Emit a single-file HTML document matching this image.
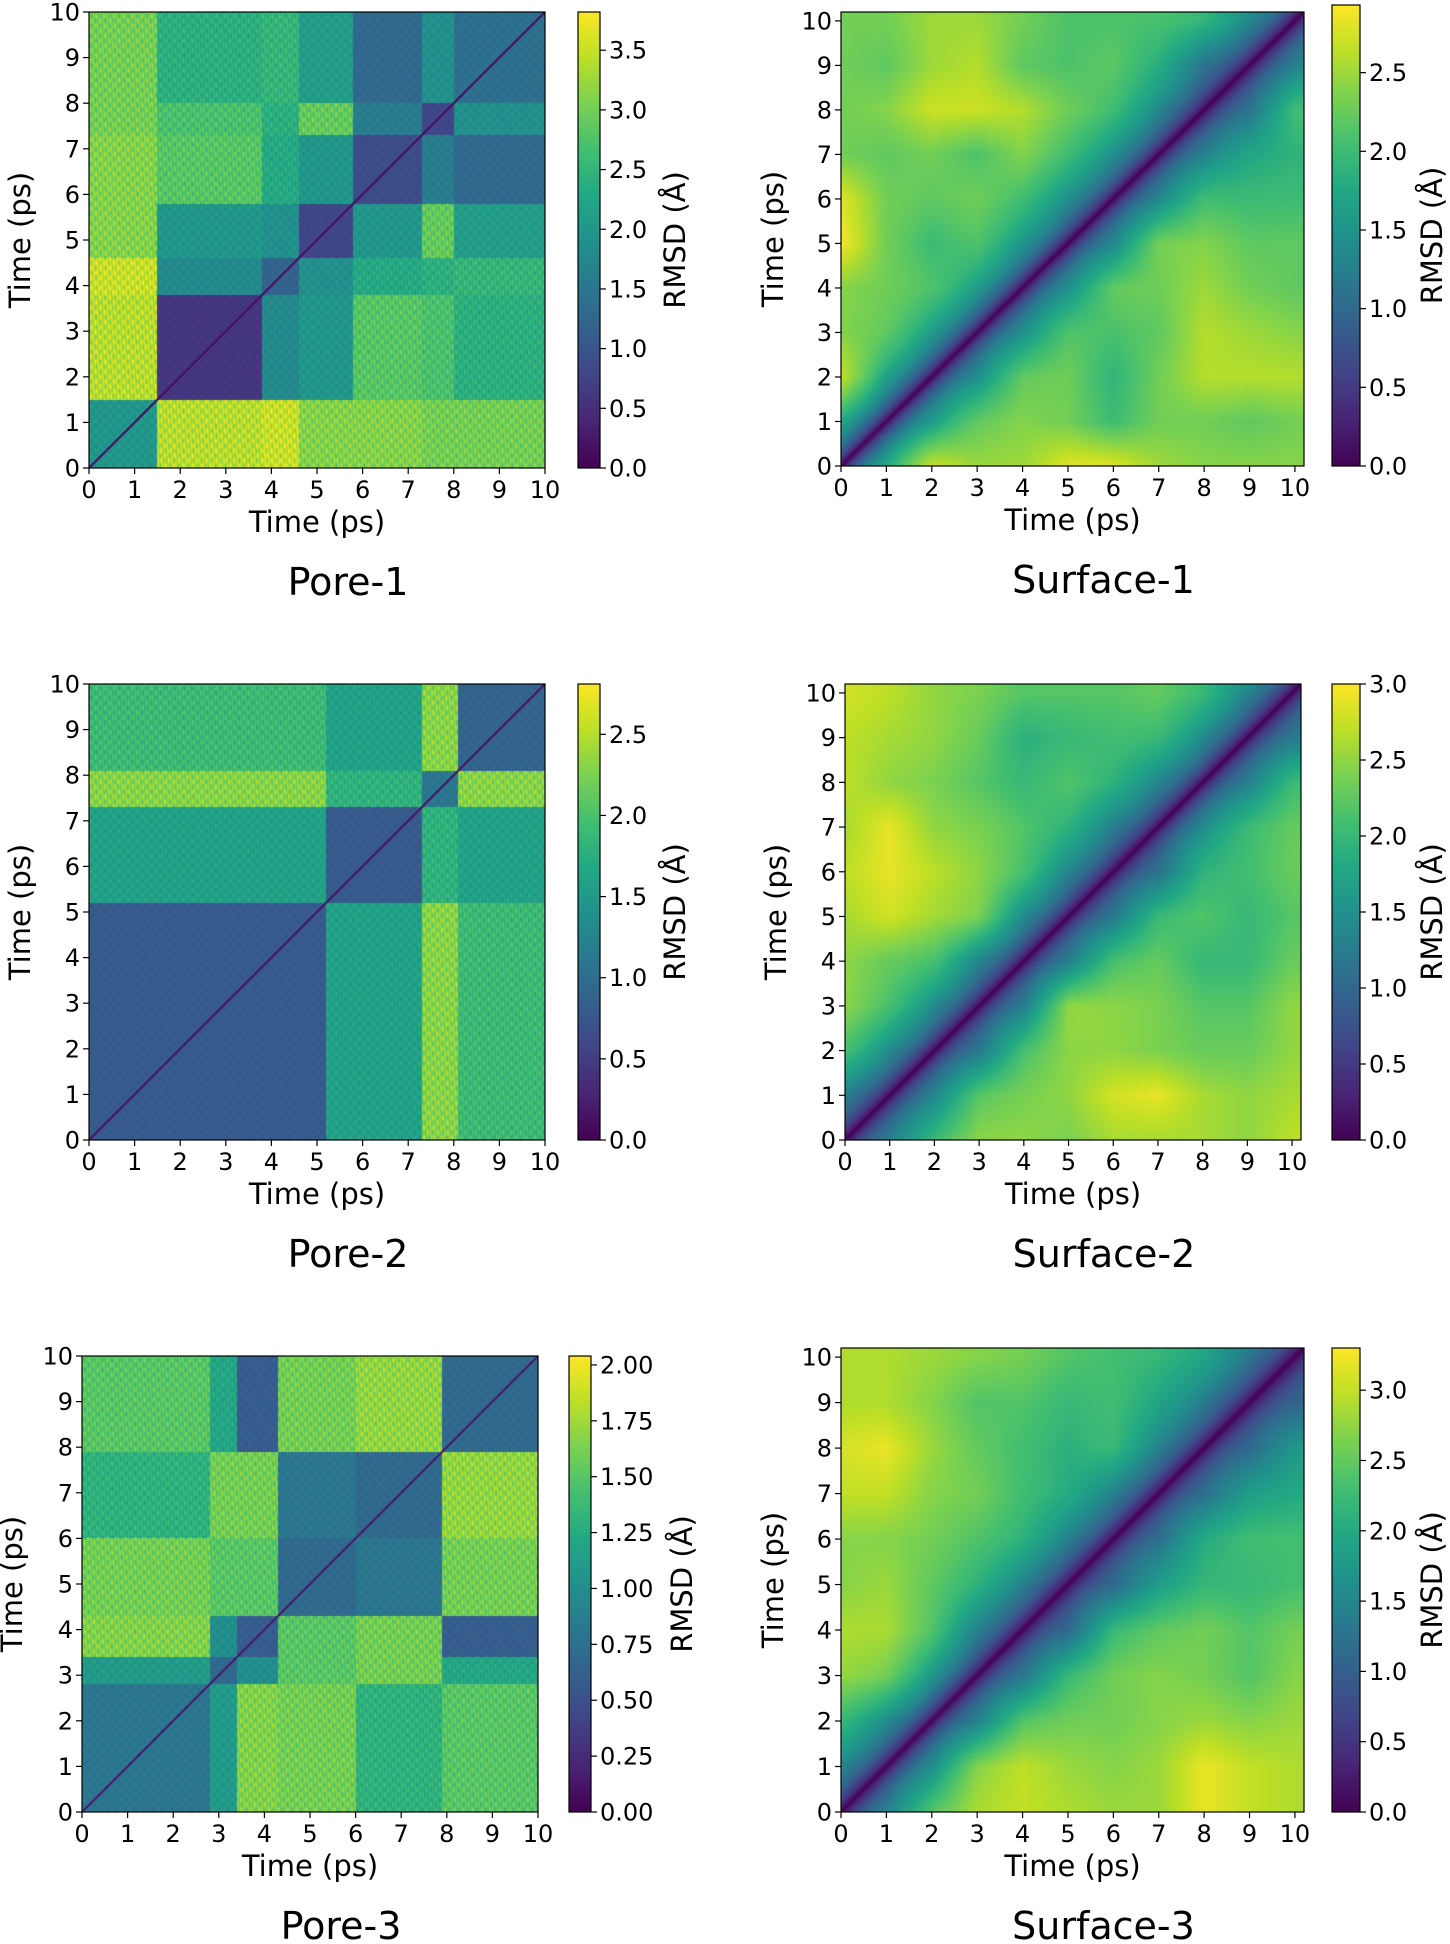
<!DOCTYPE html>
<html><head><meta charset="utf-8"><style>
html,body{margin:0;padding:0;background:#fff;}
#root{position:relative;width:1450px;height:1944px;overflow:hidden;font-family:"DejaVu Sans","Liberation Sans",sans-serif;}
canvas{position:absolute;}
svg{position:absolute;left:0;top:0;}
</style></head><body>
<div id="root">
<svg id="ov" width="1450" height="1944">
<defs><linearGradient id="vir" x1="0" y1="1" x2="0" y2="0">
<stop offset="0" stop-color="#440154"/><stop offset="0.1" stop-color="#482475"/><stop offset="0.2" stop-color="#414487"/><stop offset="0.3" stop-color="#355f8d"/><stop offset="0.4" stop-color="#2a788e"/><stop offset="0.5" stop-color="#21918c"/><stop offset="0.6" stop-color="#22a884"/><stop offset="0.7" stop-color="#44bf70"/><stop offset="0.8" stop-color="#7ad151"/><stop offset="0.9" stop-color="#bddf26"/><stop offset="1" stop-color="#fde725"/>
</linearGradient></defs>
</svg>
</div>
<script>
// ---- data ----
const poreTicks=[0,1,2,3,4,5,6,7,8,9,10];
const P1_edges=[0,1.5,3.8,4.6,5.8,7.3,8.0,10];
const P1_blocks=[
[2.0,3.4,3.5,3.1,3.1,3.0,3.0],
[3.4,0.6,1.8,2.0,2.8,2.7,2.4],
[3.5,1.8,1.2,1.9,2.3,2.4,2.5],
[3.1,2.0,1.9,0.8,2.0,2.9,2.1],
[3.1,2.8,2.3,2.0,0.9,1.6,1.3],
[3.0,2.7,2.4,2.9,1.6,0.8,1.9],
[3.0,2.4,2.5,2.1,1.3,1.9,1.4]];
const P1_cbTicks=[0.0,0.5,1.0,1.5,2.0,2.5,3.0,3.5];
const P2_edges=[0,5.2,7.3,8.1,10];
const P2_blocks=[
[0.8,1.6,2.3,1.9],
[1.6,0.8,1.8,1.6],
[2.3,1.8,1.1,2.3],
[1.9,1.6,2.3,0.9]];
const P2_cbTicks=[0.0,0.5,1.0,1.5,2.0,2.5];
const P3_edges=[0,2.8,3.4,4.3,6.0,7.9,10];
const P3_blocks=[
[0.8,1.1,1.65,1.6,1.3,1.5],
[1.1,0.7,1.0,1.5,1.6,1.2],
[1.65,1.0,0.6,1.5,1.6,0.6],
[1.6,1.5,1.5,0.7,0.8,1.6],
[1.3,1.6,1.6,0.8,0.7,1.7],
[1.5,1.2,0.6,1.6,1.7,0.7]];
const P3_cbTicks=[0.00,0.25,0.50,0.75,1.00,1.25,1.50,1.75,2.00];
const S1_grid=[
[0,2.2,2.8,2.5,2.5,2.8,2.8,2.5,2.4,2.4,2.4],
[2.2,0,2.0,2.3,2.4,2.3,2.0,2.3,2.3,2.2,2.3],
[2.8,2.1,0,1.8,2.3,2.3,1.9,2.3,2.6,2.6,2.6],
[2.4,2.3,2.0,0,1.8,2.2,2.1,2.2,2.6,2.5,2.4],
[2.4,2.3,2.2,2.0,0,1.8,2.3,2.3,2.5,2.3,2.2],
[2.9,2.3,2.0,2.2,1.9,0,1.7,2.4,2.4,2.2,2.2],
[2.8,2.3,2.2,2.3,2.1,1.8,0,1.7,2.1,2.0,2.0],
[2.3,2.2,2.3,2.1,2.4,2.1,1.8,0,1.6,1.8,1.9],
[2.3,2.4,2.7,2.7,2.6,2.3,2.1,1.7,0,1.4,2.1],
[2.3,2.2,2.5,2.6,2.2,2.1,2.2,1.9,1.4,0,1.6],
[2.3,2.3,2.5,2.5,2.3,2.1,2.1,2.1,2.0,1.7,0]];
const S1_cbTicks=[0.0,0.5,1.0,1.5,2.0,2.5];
const S2_grid=[
[0,1.6,2.1,2.5,2.5,2.4,2.6,2.6,2.6,2.5,2.7],
[1.6,0,1.7,2.3,2.4,2.5,2.8,2.9,2.6,2.5,2.6],
[2.2,1.8,0,1.5,2.2,2.5,2.5,2.4,2.3,2.3,2.5],
[2.5,2.2,1.8,0,1.6,2.6,2.5,2.4,2.2,2.2,2.5],
[2.5,2.3,2.2,1.7,0,1.6,2.2,2.3,2.0,2.0,2.3],
[2.6,2.8,2.6,2.5,1.8,0,1.5,2.1,2.2,2.0,2.2],
[2.7,2.9,2.7,2.5,2.2,1.7,0,1.4,2.0,2.1,2.3],
[2.6,2.9,2.5,2.4,2.2,2.0,1.6,0,1.8,2.1,2.3],
[2.7,2.5,2.4,2.2,2.0,2.2,2.0,1.7,0,1.6,2.1],
[2.7,2.6,2.5,2.3,1.9,2.0,2.1,2.1,1.8,0,1.5],
[2.8,2.7,2.5,2.4,2.2,2.2,2.2,2.3,2.1,1.7,0]];
const S2_cbTicks=[0.0,0.5,1.0,1.5,2.0,2.5,3.0];
const S3_grid=[
[0,1.8,2.5,2.9,3.0,2.9,2.8,2.8,3.2,3.0,2.9],
[1.9,0,2.0,2.8,3.0,2.8,2.7,2.8,3.2,3.0,2.9],
[2.3,2.0,0,1.8,2.5,2.6,2.6,2.7,2.8,2.7,2.8],
[2.8,2.7,2.2,0,1.6,2.3,2.6,2.7,2.6,2.4,2.7],
[2.9,2.9,2.5,1.8,0,1.4,2.3,2.5,2.6,2.4,2.6],
[2.7,2.8,2.5,2.2,1.8,0,1.4,1.9,2.2,2.2,2.3],
[2.7,2.7,2.6,2.4,2.2,1.8,0,1.5,2.1,2.3,2.3],
[3.0,3.0,2.7,2.6,2.3,2.1,1.8,0,1.5,1.9,2.0],
[3.1,3.2,2.8,2.5,2.3,2.1,2.3,1.8,0,1.4,1.8],
[2.9,2.9,2.7,2.4,2.4,2.2,2.3,2.0,1.7,0,1.3],
[2.9,2.9,2.8,2.7,2.6,2.4,2.3,2.2,2.0,1.6,0]];
const S3_cbTicks=[0.0,0.5,1.0,1.5,2.0,2.5,3.0];

// ---- rendering ----
const VIR=[[68,1,84],[72,36,117],[65,68,135],[53,95,141],[42,120,142],[33,145,140],[34,168,132],[68,191,112],[122,209,81],[189,223,38],[253,231,37]];
function vir(t){t=Math.max(0,Math.min(1,t));const f=t*10,i=Math.min(9,Math.floor(f)),r=f-i;const a=VIR[i],b=VIR[i+1];return [a[0]+(b[0]-a[0])*r,a[1]+(b[1]-a[1])*r,a[2]+(b[2]-a[2])*r];}
const svg=document.getElementById('ov');const NS='http://www.w3.org/2000/svg';
function el(tag,attrs,txt){const e=document.createElementNS(NS,tag);for(const k in attrs)e.setAttribute(k,attrs[k]);if(txt!==undefined)e.textContent=txt;svg.appendChild(e);return e;}
function blockIdx(edges,t){let i=0;while(i<edges.length-2&&t>=edges[i+1])i++;return i;}
function gridVal(g,x,y){const n=g.length-1;x=Math.min(n,Math.max(0,x));y=Math.min(n,Math.max(0,y));
 const bg=(i,j)=>{if(i!==j)return g[j][i];const a=[];if(i>0)a.push(g[j][i-1],g[j-1][i]);if(i<n)a.push(g[j][i+1],g[j+1][i]);return a.reduce((s,v)=>s+v,0)/a.length;};
 const i0=Math.min(n-1,Math.floor(x)),j0=Math.min(n-1,Math.floor(y)),fx=x-i0,fy=y-j0;
 return bg(i0,j0)*(1-fx)*(1-fy)+bg(i0+1,j0)*fx*(1-fy)+bg(i0,j0+1)*(1-fx)*fy+bg(i0+1,j0+1)*fx*fy;}
function panel(c){
 const W=c.R-c.L,H=c.B-c.T;
 const sx=v=>c.L+v/c.dmax*W, sy=v=>c.B-v/c.dmax*H;
 const cv=document.createElement('canvas');cv.width=W;cv.height=H;cv.style.left=c.L+'px';cv.style.top=c.T+'px';
 
 
 document.getElementById('root').insertBefore(cv,svg);
 const ctx=cv.getContext('2d');const img=ctx.createImageData(W,H);
 for(let py=0;py<H;py++){const ty=(H-py-0.5)/H*c.dmax;
  for(let px=0;px<W;px++){const tx=(px+0.5)/W*c.dmax;let v;
   if(c.grid){v=gridVal(c.grid,tx,ty);const d=Math.abs(tx-ty)/Math.SQRT2;v*=1-Math.exp(-d/0.45);}
   else{const i=blockIdx(c.edges,ty),j=blockIdx(c.edges,tx);v=c.blocks[i][j];
     v*=1+0.08*Math.sin(tx*31)*Math.sin(ty*29)+0.05*Math.sin(tx*83+ty*7);
     if(Math.abs(tx-ty)<0.035)v=0.15;}
   const col=vir(v/c.vmax);const k=(py*W+px)*4;img.data[k]=col[0];img.data[k+1]=col[1];img.data[k+2]=col[2];img.data[k+3]=255;}}
 ctx.putImageData(img,0,0);
 el('rect',{x:c.L,y:c.T,width:W,height:H,fill:'none',stroke:'#000','stroke-width':1.2,});
 for(const t of c.ticks){
  el('line',{x1:sx(t),x2:sx(t),y1:c.B,y2:c.B+6,stroke:'#000','stroke-width':1.2});
  el('text',{x:sx(t),y:c.B+30,'font-size':24,'text-anchor':'middle',},String(t));
  el('line',{x1:c.L-6,x2:c.L,y1:sy(t),y2:sy(t),stroke:'#000','stroke-width':1.2});
  el('text',{x:c.L-9,y:sy(t)+8.5,'font-size':24,'text-anchor':'end',},String(t));
 }
 el('text',{x:(c.L+c.R)/2,y:c.B+64,'font-size':29,'text-anchor':'middle',},'Time (ps)');
 el('text',{x:0,y:0,'font-size':29,'text-anchor':'middle',transform:`translate(${c.ylx},${(c.T+c.B)/2}) rotate(-90)`,},'Time (ps)');
 const cbH=c.cbB-c.cbT, cy=v=>c.cbB-v/c.vmax*cbH;
 el('rect',{x:c.cbL,y:c.cbT,width:c.cbR-c.cbL,height:cbH,fill:'url(#vir)',stroke:'#000','stroke-width':1.2,});
 for(const t of c.cbTicks){
  el('line',{x1:c.cbR,x2:c.cbR+6,y1:cy(t),y2:cy(t),stroke:'#000','stroke-width':1.2});
  el('text',{x:c.cbR+9,y:cy(t)+8.5,'font-size':24,},t.toFixed(c.dec));
 }
 el('text',{x:0,y:0,'font-size':29,'text-anchor':'middle',transform:`translate(${c.rmx},${(c.cbT+c.cbB)/2}) rotate(-90)`,},'RMSD (Å)');
 el('text',{x:(c.L+c.R)/2+c.tdx,y:c.B+127,'font-size':38,'text-anchor':'middle',},c.title);
}
panel({name:'pore-1',title:'Pore-1',L:89,R:545,T:12,B:468,dmax:10,ticks:poreTicks,edges:P1_edges,blocks:P1_blocks,vmax:3.82,cbL:578,cbR:600,cbT:12,cbB:468,cbTicks:P1_cbTicks,dec:1,ylx:30,rmx:685,tdx:31});
panel({name:'surface-1',title:'Surface-1',L:841,R:1304,T:12,B:466,dmax:10.2,ticks:poreTicks,grid:S1_grid,vmax:2.93,cbL:1332,cbR:1360,cbT:5,cbB:466,cbTicks:S1_cbTicks,dec:1,ylx:783,rmx:1442,tdx:31});
panel({name:'pore-2',title:'Pore-2',L:89,R:545,T:684,B:1140,dmax:10,ticks:poreTicks,edges:P2_edges,blocks:P2_blocks,vmax:2.81,cbL:578,cbR:600,cbT:684,cbB:1140,cbTicks:P2_cbTicks,dec:1,ylx:30,rmx:685,tdx:31});
panel({name:'surface-2',title:'Surface-2',L:845,R:1301,T:684,B:1140,dmax:10.2,ticks:poreTicks,grid:S2_grid,vmax:3.0,cbL:1332,cbR:1360,cbT:684,cbB:1140,cbTicks:S2_cbTicks,dec:1,ylx:786,rmx:1442,tdx:31});
panel({name:'pore-3',title:'Pore-3',L:82,R:538,T:1356,B:1812,dmax:10,ticks:poreTicks,edges:P3_edges,blocks:P3_blocks,vmax:2.04,cbL:569,cbR:591,cbT:1356,cbB:1812,cbTicks:P3_cbTicks,dec:2,ylx:22,rmx:692,tdx:31});
panel({name:'surface-3',title:'Surface-3',L:841,R:1304,T:1348,B:1812,dmax:10.2,ticks:poreTicks,grid:S3_grid,vmax:3.3,cbL:1332,cbR:1360,cbT:1348,cbB:1812,cbTicks:S3_cbTicks,dec:1,ylx:783,rmx:1442,tdx:31});
</script>
</body></html>
